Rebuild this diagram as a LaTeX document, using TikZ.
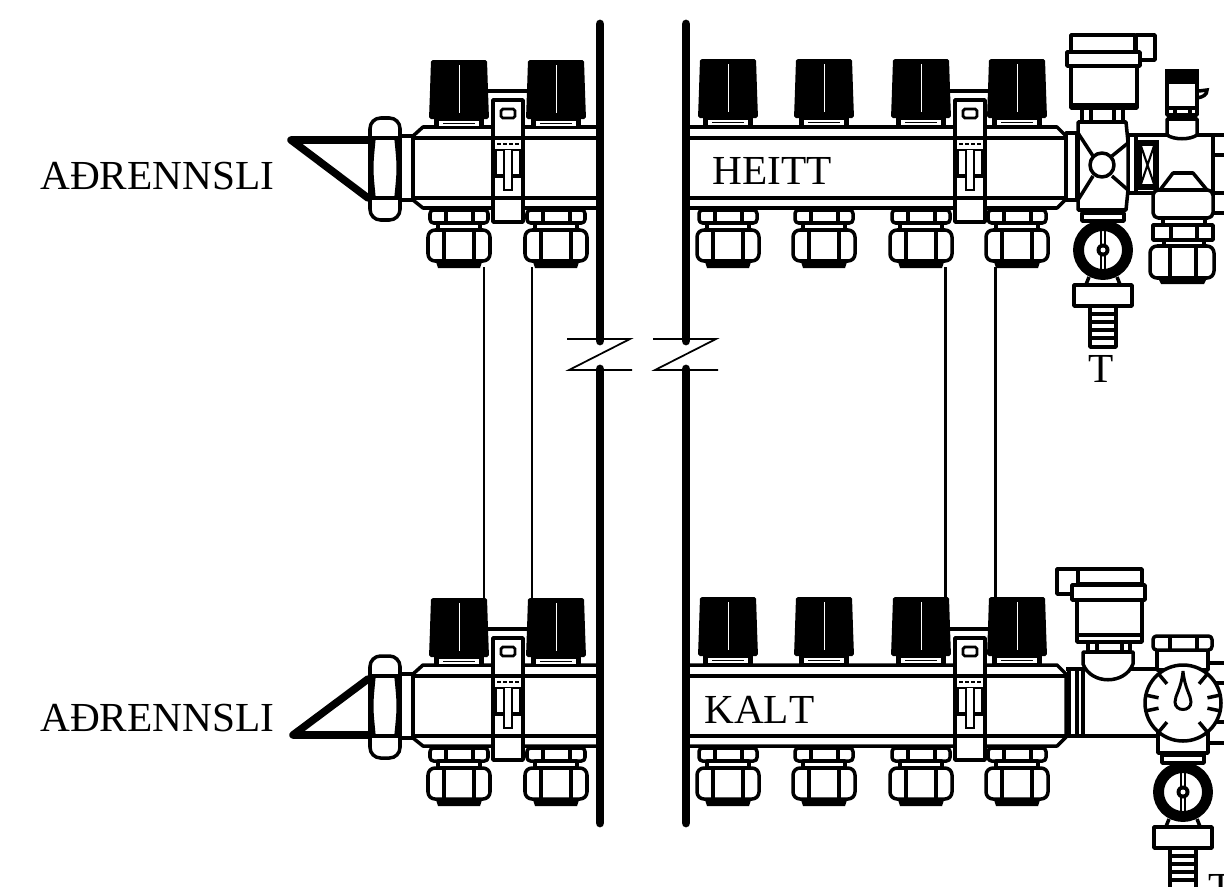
\documentclass[tikz,border=0pt]{standalone}
\usepackage{fontspec}
\setmainfont[Kerning=Off]{Liberation Serif}

\tikzset{
	part/.style={draw, fill=white, line width=2pt, line join=round},
	rim/.style={line width=2pt},
	tag/.style={inner sep=0pt, anchor=base west, font=\fontsize{23.5}{24}\selectfont},
	rail/.style={line width=5pt, line cap=round},
	pipe/.style={line width=1.7pt},
	breakline/.style={line width=1pt},
	knob/.pic={
		\fill (-25,118) rectangle (25,127);
		\fill[white] (-20,120) rectangle (20,125);
		\draw[line width=1pt] (-16,122.5) -- (16,122.5);
		\fill[rounded corners=1] (-28,59) -- (28,59) -- (29,90) -- (30,118) -- (-30,118) -- (-29,90) -- cycle;
		\draw[white, line width=0.5pt] (0,64) -- (0,112);
	},
	clamp/.pic={
		\draw[line width=2.4pt] (-24,91) -- (24,91);
		\draw[part] (-15,100) rectangle (15,222);
		\draw[line width=1.6pt, fill=white, rounded corners=1] (-7,109) rectangle (7,118);
		\draw[rim] (-15,138) -- (15,138);
		\draw[line width=1.5pt, dash pattern=on 2pt off 1.5pt] (-11,144) -- (11,144);
		\draw[line width=1pt] (-13,150) -- (13,150);
		\draw[line width=2.6pt] (-15,176) -- (15,176);
		\draw[line width=1.4pt] (-12,150) -- (-12,176) (12,150) -- (12,176);
		\draw[line width=1.4pt, fill=white] (-4,150) -- (-4,190) -- (4,190) -- (4,150);
		\draw[rim] (-15,198) -- (15,198);
	},
	fitting/.pic={
		\fill (-25,256) -- (25,256) -- (21,268) -- (-21,268) -- cycle;
		\draw[part, rounded corners=2] (-29,210) rectangle (29,223);
		\draw[rim] (-13,210) -- (-13,223) (14,210) -- (14,223);
		\draw[part] (-21,223) rectangle (21,230);
		\draw[part, rounded corners=4] (-31,230) rectangle (31,261);
		\draw[rim] (-15,230) -- (-15,261) (15,230) -- (15,261);
	},
	nut/.pic={
		\draw[part, rounded corners=6] (-15,118) rectangle (15,220);
		\draw[rim] (-15,138) -- (15,138) (-15,198) -- (15,198);
		\draw[rim] (-11,138) .. controls (-14,168) .. (-11,198);
		\draw[rim] (11,138) .. controls (14,168) .. (11,198);
	},
	drain/.pic={
		\draw[rim] (-14,27) -- (-18,37) (14,27) -- (18,37);
		\draw[part] (-21,-37) rectangle (21,-29);
		\draw[line width=6.2pt, fill=white] (0,0) circle (24.5);
		\draw[line width=1pt] (-2,-19) -- (-2,19) (2,-19) -- (2,19);
		\fill (0,0) circle (6.5);
		\fill[white] (0,0) circle (2.5);
		\draw[part] (-13,56) rectangle (13,97);
		\draw[rim] (-15,64) -- (15,64) (-15,72) -- (15,72) (-15,80) -- (15,80) (-15,88) -- (15,88);
		\draw[part] (-29,35) rectangle (29,56);
	},
}

\begin{document}
\begin{tikzpicture}[x=0.02cm, y=-0.02cm]
	\useasboundingbox (0,0) rectangle (1224,886);

	% left and right headers
	\foreach \dy in {0,538} {
		\begin{scope}[shift={(0,\dy)}]
			\draw[part] (600,127) -- (423,127) -- (413,136) -- (413,200) -- (423,208) -- (600,208);
			\draw[rim] (413,138) -- (600,138) (413,198) -- (600,198);
			\draw[part] (400,136) rectangle (413,200);
			\pic at (385,0) {nut};
			\draw[part] (686,127) -- (1057,127) -- (1066,136) -- (1066,199) -- (1057,208) -- (686,208);
			\draw[rim] (686,138) -- (1066,138) (686,198) -- (1066,198);
			\foreach \x in {508,970} {
				\pic at (\x,0) {clamp};
			}
			\foreach \x in {459,556} {
				\pic at (\x,1) {knob};
				\pic at (\x,0) {fitting};
			}
			\foreach \x in {728,824,921,1017} {
				\pic at (\x,0) {knob};
				\pic at (\x,0) {fitting};
			}
		\end{scope}
	}

	% connections
	\foreach \x in {484,532,945,995} {
		\draw[pipe] (\x,267) -- (\x,600);
	}
	\draw[line width=4.3pt, line cap=round, line join=round] (368,140) -- (291,140) -- (368,198);
	\draw[line width=4.3pt, line cap=round, line join=round] (368,679) -- (293,735) -- (368,735);

	\foreach \x in {600,686} {
		\draw[rail] (\x,24) -- (\x,341);
		\draw[rail] (\x,369) -- (\x,823);
		\draw[breakline] (\x-33,339) -- (\x+30,339) -- (\x-31,370) -- (\x+32,370);
	}

	% hot side fittings
	\draw[part] (1066,133) rectangle (1077,200);
	\draw[part] (1128,135) rectangle (1136,193);
	\draw[rim] (1136,135) -- (1224,135) (1136,193) -- (1224,193);
	\draw[rim] (1213,135) -- (1213,213) (1213,155) -- (1224,155) (1213,213) -- (1224,213);
	\draw[part] (1078,122) -- (1126,122) -- (1128,142) -- (1128,190) -- (1126,210) -- (1078,210) -- cycle;
	\draw[rim] (1078,133) -- (1093,156) (1128,143) -- (1112,156) (1078,200) -- (1093,176) (1128,190) -- (1112,176);
	\draw[part] (1102,165) circle (12);
	\draw[line width=3pt] (1139,143) rectangle (1156,187);
	\draw[line width=1.2pt] (1141,146) -- (1154,184) (1154,146) -- (1141,184);
	% air vent
	\draw[part] (1082,107) rectangle (1123,122);
	\draw[rim] (1091,107) -- (1091,122) (1114,107) -- (1114,122);
	\draw[part] (1136,35) rectangle (1155,60);
	\draw[part] (1071,35) rectangle (1135,52);
	\draw[part] (1071,66) rectangle (1137,108);
	\draw[part] (1067,52) rectangle (1140,66);
	\fill (1071,103) rectangle (1137,108);
	% small valve
	\fill (1165,69) rectangle (1199,82);
	\draw[rim] (1197,98) .. controls (1203,97) and (1207,95) .. (1207,90) -- (1199,91);
	\draw[part] (1167,82) rectangle (1197,115);
	\fill (1167,106) rectangle (1197,110);
	\draw[rim] (1175,110) -- (1175,118) (1190,110) -- (1190,118);
	\fill (1167,115) rectangle (1197,119);
	\draw[part] (1167,119) -- (1197,119) -- (1197,135) .. controls (1190,140) and (1174,140) .. (1167,135) -- cycle;
	% side outlet
	\draw[part] (1160,190) -- (1173,173) -- (1193,173) -- (1207,190) -- cycle;
	\draw[part, rounded corners=3] (1153,190) rectangle (1213,218);
	\draw[part] (1163,218) rectangle (1205,226);
	\fill (1157,276) -- (1208,276) -- (1204,284) -- (1161,284) -- cycle;
	\draw[part] (1153,225) rectangle (1213,240);
	\draw[rim] (1171,225) -- (1171,240) (1197,225) -- (1197,240);
	\draw[part] (1164,240) rectangle (1204,246);
	\draw[part, rounded corners=4] (1150,246) rectangle (1214,278);
	\draw[rim] (1170,246) -- (1170,278) (1196,246) -- (1196,278);
	\pic at (1103,250) {drain};

	% cold side fittings
	\draw[rim] (1066,669) -- (1160,669) (1066,736) -- (1160,736);
	\draw[rim] (1069,669) -- (1069,736) (1077,669) -- (1077,736) (1083,669) -- (1083,736);
	\draw[rim] (1205,663) -- (1224,663) (1215,683) -- (1224,683) (1215,722) -- (1224,722) (1205,743) -- (1224,743);
	\draw[part] (1057,569) rectangle (1078,594);
	\draw[part] (1078,569) rectangle (1142,584);
	\draw[part] (1077,600) rectangle (1142,642);
	\draw[part] (1072,585) rectangle (1145,600);
	\fill (1078,633) rectangle (1140,637);
	\draw[part] (1088,642) rectangle (1130,652);
	\draw[rim] (1097,642) -- (1097,652) (1122,642) -- (1122,652);
	\draw[part] (1083,652) -- (1133,652) -- (1133,664) .. controls (1125,685) and (1091,685) .. (1083,664) -- cycle;
	\draw[part] (1157,650) rectangle (1208,670);
	\draw[part, rounded corners=2] (1153,636) rectangle (1212,650);
	\draw[rim] (1170,636) -- (1170,650) (1197,636) -- (1197,650);
	\draw[part] (1158,730) rectangle (1208,753);
	\draw[part] (1183,703) circle (38);
	\foreach \a in {12,50,130,168,192,230,310,348} {
		\draw[rim] (1183,703) ++(\a:25) -- ++(\a:12);
	}
	\draw[line width=1.7pt] (1183,671) .. controls (1181,690) and (1175,695) .. (1175,702) .. controls (1175,712) and (1191,712) .. (1191,702) .. controls (1191,695) and (1185,690) .. (1183,671);
	\pic at (1183,792) {drain};

	% labels
	\node (drainhot) at (40,189) [tag] {AÐRENNSLI};
	\node (draincold) at (40,731) [tag] {AÐRENNSLI};
	\node (hot) at (712,184) [tag] {HEITT};
	\node (cold) at (704,723) [tag] {KALT};
	\node (thot) at (1088,382) [tag] {T};
	\node (tcold) at (1208,901) [tag] {T};
\end{tikzpicture}
\end{document}
